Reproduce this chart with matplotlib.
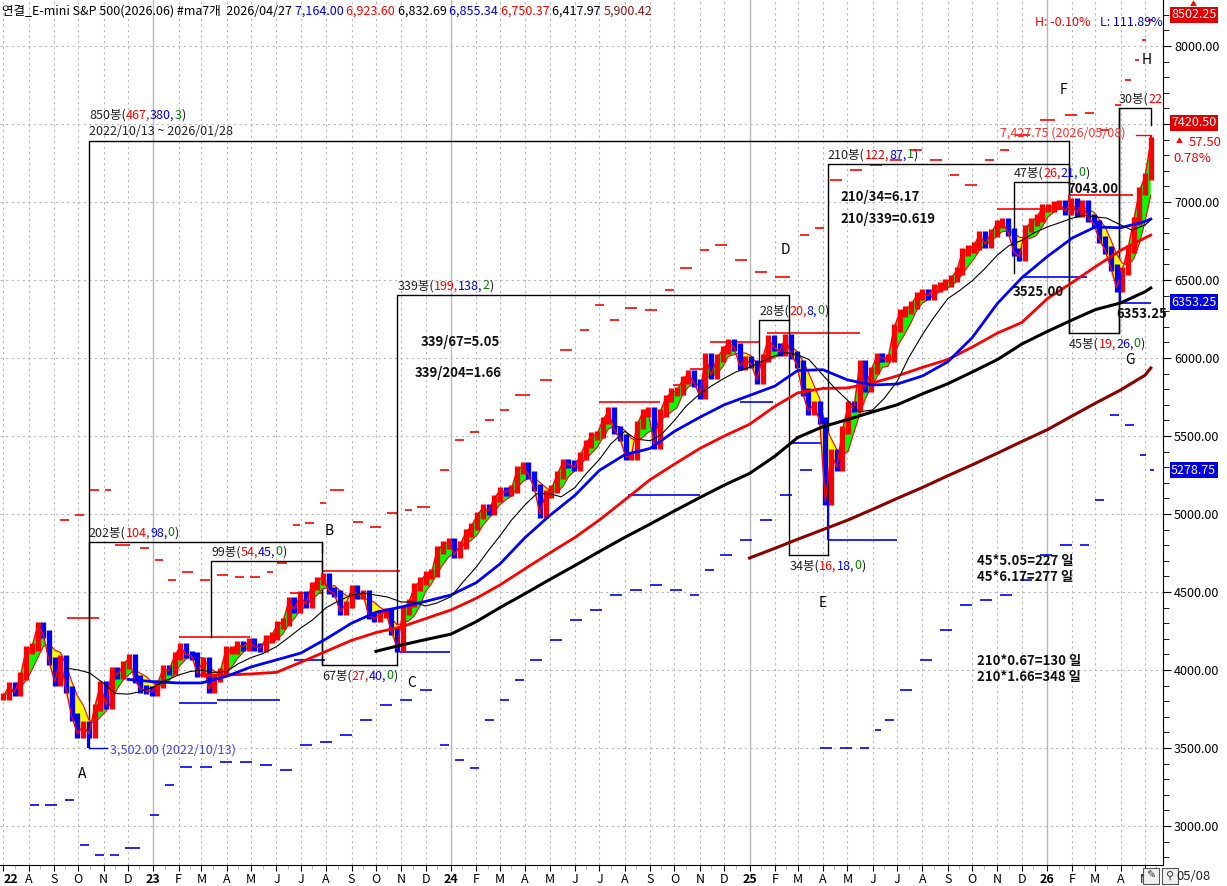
import numpy as np
import pandas as pd
import matplotlib
matplotlib.use("Agg")
import matplotlib.pyplot as plt
import matplotlib.dates as mdates
from matplotlib.ticker import MultipleLocator, FuncFormatter, FixedLocator
from matplotlib.patches import Rectangle

plt.rcParams['font.family'] = ['Noto Sans CJK KR', 'DejaVu Sans']
plt.rcParams['axes.unicode_minus'] = False

# --- weekly closes (Friday) ---
close_2022 = [3830, 3895, 3860, 3960, 4130, 4145, 4280, 4230, 4060, 3925, 4070, 3875, 3700, 3590,
              3645, 3590, 3760, 3905, 3775, 3995, 3970, 4030, 4075, 3940, 3880, 3870, 3860]
close_2023 = [3910, 4010, 3995, 4090, 4150, 4100, 4090, 3980, 4060, 3880, 3950, 3990, 4130, 4130,
              4160, 4150, 4180, 4150, 4140, 4200, 4220, 4290, 4310, 4440, 4390, 4480, 4420, 4540,
              4570, 4600, 4510, 4490, 4375, 4420, 4520, 4480, 4490, 4350, 4330, 4360, 4370, 4250,
              4140, 4380, 4430, 4530, 4570, 4610, 4620, 4770, 4800, 4820]
close_2024 = [4740, 4800, 4880, 4920, 4990, 5040, 5020, 5100, 5150, 5140, 5160, 5280, 5310, 5250,
              5170, 5000, 5130, 5160, 5250, 5330, 5320, 5300, 5370, 5450, 5500, 5510, 5600, 5660,
              5540, 5490, 5370, 5370, 5570, 5650, 5660, 5440, 5650, 5740, 5780, 5790, 5860, 5900,
              5840, 5760, 6010, 5890, 6000, 6050, 6100, 6070, 5950, 5990]
close_2025 = [5960, 5860, 6000, 6120, 6070, 6040, 6130, 6020, 5960, 5780, 5660, 5700, 5600, 5080,
              5390, 5300, 5540, 5700, 5680, 5960, 5810, 5920, 6010, 6000, 6000, 6190,
              6290, 6310, 6340, 6400, 6420, 6400, 6450, 6460, 6480, 6510, 6560, 6680, 6700, 6720,
              6790, 6730, 6800, 6860, 6870, 6810, 6680, 6650, 6830, 6870, 6900, 6960]
close_2026 = [6960, 6980, 6990, 6940, 7000, 6930, 6990, 6900, 6860, 6760, 6690, 6580, 6450, 6560,
              6700, 6880, 7070, 7164, 7390]

# notable wicks (date, price)
wick_dates = ["2022-10-13", "2025-04-07", "2026-01-28", "2026-03-31", "2026-05-08"]
wick_prices = [3502.00, 4832.00, 7043.00, 6353.25, 7427.75]

# --- moving averages: month starts Jul-2022 .. May-2026, last point 2026-05-08 ---
ma60_blue = [np.nan] * 5 + [3940, 3925, 3917, 3917, 3960, 4020, 4065, 4109, 4200, 4300, 4370, 4404,
             4440, 4481, 4560, 4680, 4850, 4990, 5120, 5280, 5380, 5420, 5530, 5620, 5700, 5760,
             5820, 5920, 5925, 5860, 5827, 5833, 5885, 5975, 6130, 6350, 6515, 6650, 6770, 6840,
             6835, 6875, 6891]
ma120_red = [np.nan] * 8 + [3968, 3968, 3975, 3985, 4050, 4120, 4190, 4240, 4276, 4330, 4385, 4460,
             4545, 4650, 4750, 4850, 4962, 5090, 5220, 5320, 5420, 5500, 5575, 5690, 5776, 5805,
             5808, 5840, 5885, 5940, 5990, 6070, 6160, 6228, 6380, 6485, 6585, 6690, 6770, 6788]
ma240_black = [np.nan] * 15 + [4120, 4160, 4195, 4230, 4310, 4400, 4490, 4580, 4670, 4760, 4850,
               4935, 5020, 5105, 5185, 5260, 5370, 5490, 5560, 5605, 5655, 5700, 5770, 5835, 5910,
               5990, 6090, 6170, 6245, 6310, 6353, 6425, 6449]
ma480_darkred = [np.nan] * 30 + [4718, 4780, 4838, 4900, 4960, 5030, 5100, 5170, 5245, 5315, 5390,
                 5465, 5540, 5630, 5710, 5795, 5890, 5936]

# thin black MA, 1st and 15th of each month from 2022-09-15, last point 2026-05-08
ma_thin = [4013, 4000, 3981, 3915, 3850, 3845, 3860,
           3891, 3930, 3968, 3990, 4000, 3985, 3990, 4040, 4080, 4105, 4150, 4205,
           4270, 4320, 4400, 4440, 4480, 4494, 4480, 4468, 4436, 4436, 4410, 4430,
           4470, 4560, 4660, 4760, 4860, 4960, 5060, 5130, 5130, 5110, 5170, 5260,
           5350, 5450, 5530, 5480, 5470, 5510, 5600, 5690, 5770, 5820, 5870, 5910,
           5940, 5975, 6015, 6035, 6020, 5990, 5890, 5810, 5730, 5655, 5667, 5740,
           5850, 6000, 6150, 6260, 6380, 6430, 6495, 6565, 6660, 6720, 6755, 6800,
           6840, 6865, 6897, 6915, 6905, 6897, 6853, 6820, 6853, 6885]

# running high (red) / running low (blue) step lines: (start, end, price)
red_steps = [("2022-09-17", "2022-10-27", 4333), ("2023-02-02", "2023-04-30", 4212),
             ("2023-06-17", "2023-07-28", 4494), ("2023-07-28", "2023-10-30", 4635),
             ("2024-07-01", "2024-09-13", 5718), ("2024-09-29", "2024-10-20", 5827),
             ("2024-10-20", "2024-11-13", 5929), ("2024-11-13", "2025-01-14", 6103),
             ("2025-01-23", "2025-05-16", 6160), ("2025-10-31", "2026-01-29", 6955),
             ("2026-01-29", "2026-04-16", 7045)]
blue_steps = [("2023-02-02", "2023-03-20", 3788), ("2023-03-20", "2023-06-05", 3808),
              ("2023-06-23", "2023-07-31", 4064), ("2023-10-30", "2023-12-31", 4115),
              ("2024-08-05", "2024-11-01", 5122), ("2024-12-20", "2025-01-30", 5718),
              ("2025-02-19", "2025-04-07", 5455), ("2025-04-07", "2025-07-01", 4833),
              ("2025-12-02", "2026-02-19", 6519), ("2026-03-31", "2026-05-08", 6353)]

# far projection dashes: days since 2022-06-27 and price
red_far_day = [74, 92, 110, 129, 141, 172, 190, 206, 223, 245, 266, 288, 307, 327, 340, 359, 374,
               392, 405, 433, 454, 475, 497, 511, 539, 558, 576, 595, 613, 631, 662, 687, 711, 730,
               748, 766, 791, 815, 834, 858, 877, 901, 926, 950, 981, 999, 1018, 1042, 1067, 1091,
               1116, 1140, 1165, 1183, 1208, 1226, 1245, 1275, 1306, 1330, 1349, 1367, 1379, 1392,
               1400, 1408]
red_far = [4962, 4994, 5154, 5154, 4801, 4782, 4705, 4577, 4628, 4577, 4609, 4596, 4596, 4628, 4686,
           4929, 4942, 5071, 5154, 4949, 4917, 5006, 5026, 5045, 5282, 5474, 5526, 5603, 5667, 5763,
           5859, 6051, 6179, 6340, 6244, 6321, 6308, 6436, 6577, 6692, 6724, 6628, 6551, 6519, 6788,
           6833, 7141, 7205, 7237, 7269, 7333, 7269, 7173, 7109, 7269, 7333, 7429, 7526, 7558, 7571,
           7462, 7622, 7782, 7910, 8038, 8167]
blue_far_day = [37, 55, 80, 98, 116, 135, 153, 184, 202, 221, 245, 270, 294, 319, 343, 368, 392, 417,
                441, 466, 490, 515, 539, 558, 576, 595, 613, 631, 650, 674, 699, 723, 748, 772, 797,
                821, 846, 864, 883, 907, 932, 956, 981, 1005, 1030, 1054, 1073, 1085, 1103, 1128,
                1153, 1177, 1202, 1226, 1251, 1275, 1300, 1324, 1343, 1361, 1379, 1398, 1410]
blue_far = [3135, 3135, 3167, 2878, 2814, 2814, 2859, 3071, 3263, 3378, 3378, 3410, 3410, 3391, 3359,
            3519, 3538, 3583, 3679, 3776, 3808, 3872, 3519, 3423, 3372, 3679, 3808, 3936, 4064, 4192,
            4321, 4385, 4481, 4513, 4545, 4513, 4481, 4641, 4737, 4833, 4962, 5122, 5282, 3500, 3500,
            3500, 3615, 3679, 3872, 4064, 4256, 4417, 4449, 4481, 4577, 4737, 4801, 4801, 5090, 5635,
            5571, 5378, 5282]

# bar-count boxes: label, counts, x1, x2, edge price, left end, right end, label side
boxes = [
    ("850봉(", ("467,", "380,", "3"), "2022-10-14", "2026-01-28", 7391, 3500, 7391, "top2"),
    ("202봉(", ("104,", "98,", "0"), "2022-10-14", "2023-07-27", 4821, 3808, 4756, "top"),
    ("99봉(", ("54,", "45,", "0"), "2023-03-13", "2023-07-27", 4699, 4212, 4032, "top"),
    ("67봉(", ("27,", "40,", "0"), "2023-07-27", "2023-10-27", 4032, 4821, 4032, "bottom"),
    ("339봉(", ("199,", "138,", "2"), "2023-10-27", "2025-02-19", 6404, 4032, 4737, "top"),
    ("28봉(", ("20,", "8,", "0"), "2025-01-13", "2025-02-19", 6244, 5987, 6244, "top"),
    ("34봉(", ("16,", "18,", "0"), "2025-02-19", "2025-04-07", 4737, 4737, 4737, "bottom"),
    ("210봉(", ("122,", "87,", "1"), "2025-04-07", "2026-01-28", 7244, 4737, 6160, "top"),
    ("47봉(", ("26,", "21,", "0"), "2025-11-21", "2026-01-28", 7128, 6545, 7128, "top"),
    ("45봉(", ("19,", "26,", "0"), "2026-01-28", "2026-03-30", 6160, 7391, 7603, "bottom"),
    ("30봉(", ("22,", "8,", "0"), "2026-03-30", "2026-05-08", 7603, 6160, 7494, "top"),
]

letters = ["A", "B", "C", "D", "E", "F", "G", "H"]
letter_dates = ["2022-10-06", "2023-08-05", "2023-11-14", "2025-02-14", "2025-04-01", "2026-01-21",
                "2026-04-13", "2026-05-03"]
letter_prices = [3333, 4891, 3917, 6692, 4429, 7718, 5987, 7910]

calc_texts = ["210/34=6.17", "210/339=0.619", "339/67=5.05", "339/204=1.66"]
calc_dates = ["2025-04-23", "2025-04-23", "2023-11-25", "2023-11-18"]
calc_prices = [7032, 6891, 6103, 5904]
days_texts = ["45*5.05=227 일", "45*6.17=277 일", "210*0.67=130 일", "210*1.66=348 일"]
days_prices = [4699, 4596, 4058, 3955]
level_texts = ["7043.00", "3525.00", "6353.25"]
level_dates = ["2026-01-26", "2025-11-20", "2026-03-27"]
level_prices = [7083, 6423, 6282]

header_parts = [("연결_E-mini S&P 500(2026.06) #ma7개  2026/04/27 ", "black"), ("7,164.00 ", "blue"),
                ("6,923.60 ", "red"), ("6,832.69 ", "black"), ("6,855.34 ", "blue"),
                ("6,750.37 ", "red"), ("6,417.97 ", "black"), ("5,900.42", "#8b1a1a")]


def D(s):
    return mdates.datestr2num(s)


fig = plt.figure(figsize=(12.27, 8.86), dpi=100)
ax = fig.add_axes([0, 21 / 886, 1163 / 1227, 865 / 886])
x0 = D("2022-06-27")
ax.set_xlim(x0, D("2026-05-23"))
ax.set_ylim(2750, 8295)

# grid
months = pd.date_range("2022-07-01", "2026-05-01", freq="MS")
for m in months:
    if m.month == 1:
        ax.axvline(mdates.date2num(m), color="#b8b8b8", lw=1.0, zorder=0)
    else:
        ax.axvline(mdates.date2num(m), color="#b8b8b8", lw=0.8, ls=(0, (2, 3)), zorder=0)
for lvl in range(3000, 8001, 500):
    ax.axhline(lvl, color="#b8b8b8", lw=0.8, ls=(0, (2, 3)), zorder=0)


# far dashes: short horizontal pieces only
def far_dashes(days, prices, color):
    xs = [x0 + d for d in days]
    for i in range(len(xs)):
        span = (xs[i + 1] - xs[i]) if i + 1 < len(xs) else 8
        ax.hlines(prices[i], xs[i], xs[i] + 0.6 * span, color=color, lw=1.2, zorder=1)


far_dashes(red_far_day, red_far, "red")
far_dashes(blue_far_day, blue_far, "blue")

for a, b, p in red_steps:
    ax.hlines(p, D(a), D(b), color="red", lw=1.2, zorder=2)
for a, b, p in blue_steps:
    ax.hlines(p, D(a), D(b), color="blue", lw=1.2, zorder=2)

# price
closes = np.array(close_2022 + close_2023 + close_2024 + close_2025 + close_2026, dtype=float)
weeks = mdates.date2num(pd.date_range("2022-07-01", periods=len(closes), freq="W-FRI").to_pydatetime())
band = pd.Series(closes).rolling(5, min_periods=1).mean().values
ax.fill_between(weeks, closes, band, where=closes >= band, interpolate=True, color="#00ff00", lw=0, zorder=3)
ax.fill_between(weeks, closes, band, where=closes < band, interpolate=True, color="#ffff00", lw=0, zorder=3)
ax.plot(weeks, band, color="red", lw=0.8, zorder=3)
prev = np.concatenate([[closes[0]], closes[:-1]])
up = closes >= prev
lo = np.minimum(prev, closes) - 25
hi = np.maximum(prev, closes) + 25
ax.vlines(weeks[up], lo[up], hi[up], color="red", lw=3.8, zorder=4)
ax.vlines(weeks[~up], lo[~up], hi[~up], color="blue", lw=3.8, zorder=4)
ax.plot(weeks, closes, color="red", lw=1.0, zorder=4)
for ds, p in zip(wick_dates, wick_prices):
    w = D(ds)
    i = np.argmin(np.abs(weeks - w))
    ax.vlines(w, min(p, closes[i]), max(p, closes[i]), color="blue" if p < closes[i] else "red",
              lw=1.5, zorder=4)

# moving averages
ma_x = list(mdates.date2num(months.to_pydatetime())) + [D("2026-05-08")]
ax.plot(ma_x, ma480_darkred, color="#8b0000", lw=2.2, zorder=5)
ax.plot(ma_x, ma240_black, color="black", lw=2.2, zorder=5)
ax.plot(ma_x, ma120_red, color="red", lw=2.0, zorder=5)
ax.plot(ma_x, ma60_blue, color="blue", lw=2.0, zorder=5)
thin_x = list(mdates.date2num(pd.date_range("2022-09-15", "2026-05-01", freq="SMS").to_pydatetime())) + [D("2026-05-08")]
ax.plot(thin_x, ma_thin, color="black", lw=0.8, zorder=5)

# boxes
for name, counts, x1, x2, edge, lend, rend, side in boxes:
    ax.plot([D(x1), D(x1), D(x2), D(x2)], [lend, edge, edge, rend], color="black", lw=1.0, zorder=2)
    if side == "bottom":
        va, off = "top", (0, -3)
    elif side == "top2":
        va, off = "bottom", (0, 14)
    else:
        va, off = "bottom", (0, 2)
    t = ax.annotate(name, xy=(D(x1), edge), xytext=off, textcoords="offset points", ha="left", va=va,
                    color="#222222", fontsize=9, annotation_clip=False, clip_on=True)
    for s, c in zip(list(counts) + [")"], ["red", "blue", "green", "#222222"]):
        t = ax.annotate(s, xy=(1, 0), xycoords=t, va="bottom", ha="left", color=c, fontsize=9,
                        annotation_clip=False, clip_on=True)
ax.annotate("2022/10/13 ~ 2026/01/28", xy=(D("2022-10-14"), 7391), xytext=(0, 2),
            textcoords="offset points", va="bottom", ha="left", fontsize=9, color="#222222")

# letters and calculations
for s, ds, p in zip(letters, letter_dates, letter_prices):
    ax.text(D(ds), p, s, ha="center", va="center", fontsize=10, color="black", zorder=6)
for s, ds, p in zip(calc_texts, calc_dates, calc_prices):
    ax.text(D(ds), p, s, ha="left", va="center", fontsize=9.5, fontweight="bold", color="#111111", zorder=6)
for s, p in zip(days_texts, days_prices):
    ax.text(D("2025-10-07"), p, s, ha="left", va="center", fontsize=9.5, fontweight="bold",
            color="#111111", zorder=6)
for s, ds, p in zip(level_texts, level_dates, level_prices):
    ax.text(D(ds), p, s, ha="left", va="center", fontsize=9.5, fontweight="bold", color="#111111", zorder=6)

ax.text(D("2025-11-04"), 7442, "7,427.75 (2026/05/08)", ha="left", va="center", fontsize=9,
        color="#ff3030", zorder=6)
ax.plot([D("2026-04-20"), D("2026-05-08")], [7432, 7432], color="red", lw=1.0, zorder=6)
ax.plot([D("2022-10-14"), D("2022-11-05")], [3500, 3500], color="blue", lw=1.0, zorder=6)
ax.text(D("2022-11-09"), 3487, "3,502.00 (2022/10/13)", ha="left", va="center", fontsize=9,
        color="#4040ff", zorder=6)

# header
t = ax.text(0.002, 1 - 18 / 865, header_parts[0][0], transform=ax.transAxes, va="bottom",
            ha="left", fontsize=9, color=header_parts[0][1])
for s, c in header_parts[1:]:
    t = ax.annotate(s, xy=(1, 0), xycoords=t, va="bottom", ha="left", color=c, fontsize=9)
fig.text(1035 / 1227, 1 - 22 / 886, "H: -0.10%", color="red", fontsize=9, va="center")
fig.text(1100 / 1227, 1 - 22 / 886, "L: 111.89%", color="blue", fontsize=9, va="center")

# axes styling
for sp in ["top", "left"]:
    ax.spines[sp].set_visible(False)
ax.spines["right"].set_color("black")
ax.spines["bottom"].set_color("black")
ax.yaxis.tick_right()
ax.yaxis.set_major_locator(MultipleLocator(500))
ax.yaxis.set_minor_locator(MultipleLocator(100))
# the 7500 label sits under the current-price tag
ax.yaxis.set_major_formatter(FuncFormatter(lambda v, _: "" if abs(v - 7500) < 1 else f"{v:.2f}"))
ax.tick_params(axis="y", which="major", direction="out", length=6, labelsize=9, pad=2)
ax.tick_params(axis="y", which="minor", direction="out", length=4)
ax.set_xticks(mdates.date2num(months.to_pydatetime()))
initials = "JFMAMJJASOND"
labels = []
for i, m in enumerate(months):
    labels.append(f"{m.year % 100:02d}" if (m.month == 1 or i == 0) else initials[m.month - 1])
ax.set_xticklabels(labels)
for i, (lab, m) in enumerate(zip(ax.get_xticklabels(), months)):
    if m.month == 1 or i == 0:
        lab.set_fontweight("bold")
    if i == 0:
        lab.set_horizontalalignment("left")
        lab.set_x(mdates.date2num(m) - 3)
mids = pd.date_range("2022-07-01", "2026-05-20", freq="SMS")
ax.xaxis.set_minor_locator(FixedLocator(mdates.date2num(mids[mids.day == 15].to_pydatetime())))
ax.tick_params(axis="x", which="major", direction="out", length=4, labelsize=9, pad=2)
ax.tick_params(axis="x", which="minor", direction="out", length=3, color="#aaaaaa")


# right side price tags
def tag(y_px, s, fc, fontsize=9):
    fig.text(1171 / 1227, 1 - y_px / 886, s, color="white", fontsize=fontsize, va="center", ha="left",
             bbox=dict(facecolor=fc, edgecolor="none", pad=1.0))


tag(15, "8502.25", "#e00000")
tag(123, "7420.50", "#e00000")
tag(302, "6353.25", "#0000e0")
tag(470, "5278.75", "#0000e0")
fig.text(1193 / 1227, 1 - 4 / 886, "▲", color="red", fontsize=5, ha="center", va="center")
fig.text(1179 / 1227, 1 - 141 / 886, "▲", color="red", fontsize=5, ha="center", va="center")
fig.text(1189 / 1227, 1 - 142 / 886, "57.50", color="red", fontsize=9.5, ha="left", va="center")
fig.text(1173 / 1227, 1 - 158 / 886, "0.78%", color="red", fontsize=9.5, ha="left", va="center")
fig.text(1176 / 1227, 1 - 876 / 886, "05/08", color="#222222", fontsize=9.5, ha="left", va="center")
for xi, sym in [(1143, "✎"), (1162, "⚲")]:
    fig.patches.append(Rectangle((xi / 1227, 2 / 886), 16 / 1227, 16 / 886, transform=fig.transFigure,
                                 facecolor="#f0f0f0", edgecolor="#555555", lw=0.8))
    fig.text((xi + 8) / 1227, 10 / 886, sym, fontsize=8, ha="center", va="center", color="#333333")

fig.savefig("out.png", dpi=100)
